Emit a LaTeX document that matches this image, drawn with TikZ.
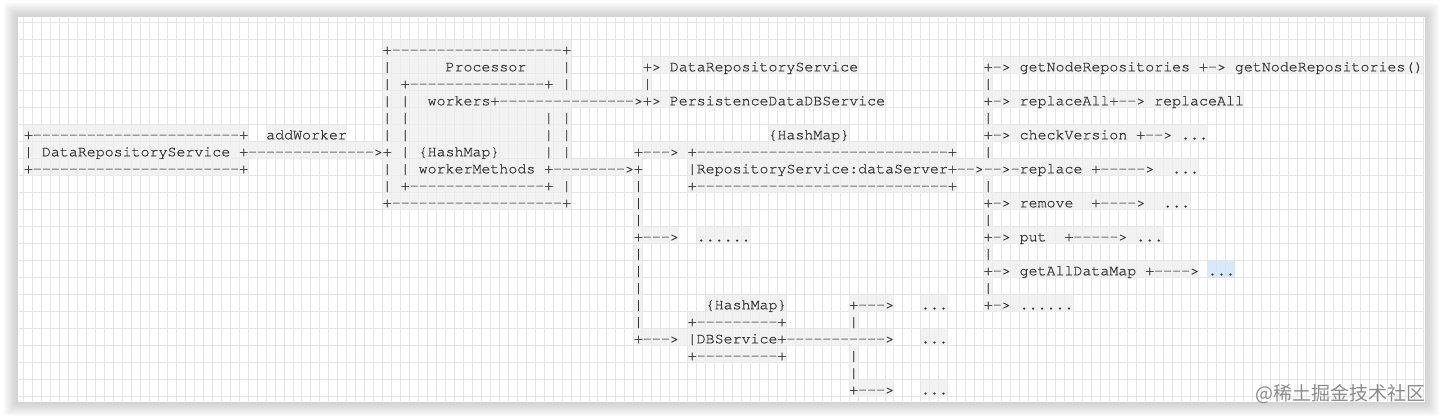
\documentclass[tikz,border=0pt]{standalone}
\usepackage{fontspec}
\setmonofont{TeX Gyre Cursor}[FakeBold=0.6]
\newfontfamily\cjkfont{Noto Sans CJK SC}
\definecolor{gridline}{HTML}{E5E5E5}
\definecolor{codebg}{HTML}{EEEEEE}
\definecolor{codefg}{HTML}{333333}
\definecolor{selbg}{HTML}{CCE2FA}
\begin{document}
\begin{tikzpicture}[line cap=round,line join=round,
    ascii/.style={anchor=west,inner xsep=0pt,inner ysep=1pt,text height=13pt,text depth=2pt,
      fill=codebg,fill opacity=0.75,text opacity=1,text=codefg,
      font=\ttfamily\fontsize{14.95pt}{17pt}\selectfont}]
    \useasboundingbox (0pt,0pt) rectangle (1444pt,-420pt);
    % card and its shadow
    \foreach \s in {1,...,12}
        \fill[black,opacity=0.014,rounded corners=3pt] ({18pt-1.2pt*\s},{-17pt+1.2pt*\s}) rectangle ({1425pt+1.2pt*\s},{-402pt-1.2pt*\s});
    \fill[white] (18pt,-17pt) rectangle (1425pt,-402pt);
    % grid paper
    \foreach \k in {0,...,156}
        \draw[gridline,line width=0.8pt] ({23.8pt+8.97pt*\k},-18pt) -- ({23.8pt+8.97pt*\k},-401pt);
    \foreach \k in {0,...,22}
        \draw[gridline,line width=0.8pt] (19pt,{-22pt-17pt*\k}) -- (1424pt,{-22pt-17pt*\k});
    % the ascii drawing, one column = one character
    \begin{scope}[shift={(23.8pt,-48.8pt)},x=8.97pt,y=-17pt]
        \node[ascii] (r0) at (40,0) {+-------------------+};
        \node[ascii] (r1a) at (40,1) {|~~~~~~Processor~~~~|};
        \node[ascii] (r1b) at (69,1) {+>~DataRepositoryService};
        \node[ascii] (r1c) at (107,1) {+->~getNodeRepositories~+->~getNodeRepositories()};
        \node[ascii] (r2a) at (40,2) {|~+---------------+~|};
        \node[ascii] (r2b) at (69,2) {|};
        \node[ascii] (r3a) at (40,3) {|~|~~workers+--------------->+>~PersistenceDataDBService};
        \node[ascii] (r3c) at (107,3) {+->~replaceAll+-->~replaceAll};
        \node[ascii] (r4a) at (40,4) {|~|~~~~~~~~~~~~~~~|~|};
        \node[ascii] (r5a) at (0,5) {+-----------------------+};
        \node[ascii] (r5b) at (27,5) {addWorker};
        \node[ascii] (r5c) at (40,5) {|~|~~~~~~~~~~~~~~~|~|};
        \node[ascii] (r5d) at (83,5) {\{HashMap\}};
        \node[ascii] (r5e) at (107,5) {+->~checkVersion~+-->~...};
        \node[ascii] (r6a) at (0,6) {|~DataRepositoryService~+-------------->+~|~\{HashMap\}~~~~~|~|};
        \node[ascii] (r6b) at (68,6) {+--->~+----------------------------+};
        \node[ascii] (r7a) at (0,7) {+-----------------------+};
        \node[ascii] (r7b) at (40,7) {|~|~workerMethods~+-------->+};
        \node[ascii] (r7c) at (74,7) {|RepositoryService:dataServer+-->-->-replace~+----->~~...};
        \node[ascii] (r8a) at (40,8) {|~+---------------+~|};
        \node[ascii] (r8c) at (74,8) {+----------------------------+};
        \node[ascii] (r9a) at (40,9) {+-------------------+};
        \node[ascii] (r9c) at (107,9) {+->~remove~~+---->~~...};
        \node[ascii] (r11a) at (68,11) {+--->};
        \node[ascii] (r11b) at (75,11) {......};
        \node[ascii] (r11c) at (107,11) {+->~put~~+----->~...};
        \node[ascii] (r13c) at (107,13) {+->~getAllDataMap~+---->~};
        \node[ascii,fill=selbg] (r13d) at (132,13) {...};
        \node[ascii] (r15a) at (76,15) {\{HashMap\}};
        \node[ascii] (r15b) at (92,15) {+--->};
        \node[ascii] (r15c) at (100,15) {...};
        \node[ascii] (r15d) at (107,15) {+->~......};
        \node[ascii] (r16a) at (74,16) {+---------+};
        \node[ascii] (r17a) at (68,17) {+--->~|DBService+----------->};
        \node[ascii] (r17b) at (100,17) {...};
        \node[ascii] (r18a) at (74,18) {+---------+};
        \node[ascii] (r20a) at (92,20) {+--->};
        \node[ascii] (r20b) at (100,20) {...};
        % the long bars
        \foreach \r in {8,9,10,12,13,14,15,16}
            \node[ascii] (p\r) at (68,\r) {|};
        \foreach \r in {2,4,6,8,10,12,14}
            \node[ascii] (q\r) at (107,\r) {|};
        \foreach \r in {16,18,19}
            \node[ascii] (d\r) at (92,\r) {|};
    \end{scope}
    \node[anchor=east,text=black!45,font=\cjkfont\fontsize{19pt}{19pt}\selectfont] (mark) at (1429pt,-394pt) {@稀土掘金技术社区};
\end{tikzpicture}
\end{document}
